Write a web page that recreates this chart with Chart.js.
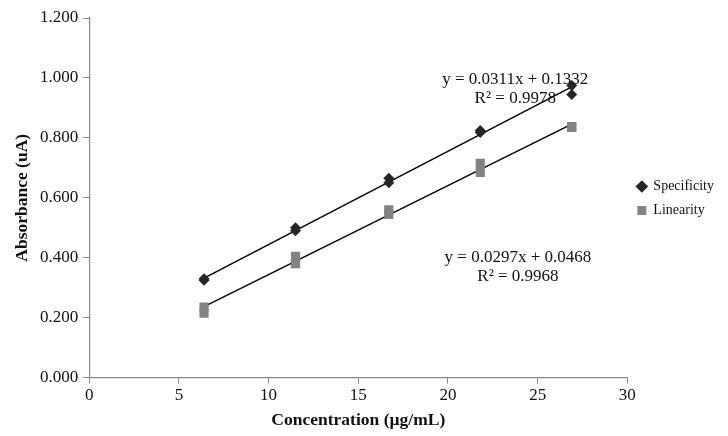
<!DOCTYPE html>
<html lang="en">
<head>
  <meta charset="UTF-8">
  <title>Specificity and Linearity</title>
  <script src="https://cdn.jsdelivr.net/npm/chart.js"></script>
  <style>
    html, body { margin: 0; padding: 0; background: #fff; }
    #wrap { width: 728px; height: 436px; }
  </style>
</head>
<body>
  <div id="wrap"><canvas id="chart"></canvas></div>

  <script>
    // concentration (ug/mL), replicate readings
    const specX = [6.4, 6.4, 11.5, 11.5, 16.7, 16.7, 21.8, 21.8, 26.9, 26.9];
    const specY = [0.325, 0.330, 0.490, 0.500, 0.650, 0.665, 0.818, 0.825, 0.945, 0.975];
    const linX = [6.4, 6.4, 11.5, 11.5, 16.7, 16.7, 21.8, 21.8, 26.9, 26.9];
    const linY = [0.215, 0.235, 0.380, 0.405, 0.545, 0.560, 0.685, 0.715, 0.835, 0.838];

    // trendline end points
    const specTrendX = [6.4, 26.9];
    const specTrendY = [0.332, 0.970];
    const linTrendX = [6.4, 26.9];
    const linTrendY = [0.237, 0.846];

    const specEq = ['y = 0.0311x + 0.1332', 'R² = 0.9978'];
    const linEq = ['y = 0.0297x + 0.0468', 'R² = 0.9968'];

    const pts = (xs, ys) => xs.map((x, i) => ({ x: x, y: ys[i] }));
    const serif = "'Liberation Serif', 'Times New Roman', serif";

    // writes the trendline equations
    const eqLabels = {
      id: 'eqLabels',
      afterDatasetsDraw(chart) {
        const ctx = chart.ctx;
        const xs = chart.scales.x, ys = chart.scales.y;
        ctx.save();
        ctx.font = '17px ' + serif;
        ctx.fillStyle = '#111';
        ctx.textAlign = 'center';
        ctx.textBaseline = 'middle';
        const put = (lines, x, y) => {
          const px = xs.getPixelForValue(x), py = ys.getPixelForValue(y);
          lines.forEach((t, i) => ctx.fillText(t, px, py + i * 19));
        };
        put(specEq, 23.75, 0.994);
        put(linEq, 23.9, 0.400);
        ctx.restore();
      }
    };

    // legend sits a bit above the middle in the original
    const legendNudge = {
      id: 'legendNudge',
      afterLayout(chart) {
        chart.legend.top -= 28;
        chart.legend.bottom -= 28;
      }
    };

    new Chart(document.getElementById('chart'), {
      type: 'scatter',
      data: {
        datasets: [
          {
            label: 'Specificity',
            data: pts(specX, specY),
            pointStyle: 'rectRot',
            pointRadius: 5.5,
            backgroundColor: '#262626',
            borderColor: '#262626',
            borderWidth: 0
          },
          {
            label: 'Linearity',
            data: pts(linX, linY),
            pointStyle: 'rect',
            pointRadius: 6.5,
            backgroundColor: '#838383',
            borderColor: '#838383',
            borderWidth: 0
          },
          {
            label: 'trend1',
            data: pts(specTrendX, specTrendY),
            showLine: true,
            pointRadius: 0,
            borderColor: '#000',
            borderWidth: 1.5
          },
          {
            label: 'trend2',
            data: pts(linTrendX, linTrendY),
            showLine: true,
            pointRadius: 0,
            borderColor: '#000',
            borderWidth: 1.5
          }
        ]
      },
      options: {
        responsive: true,
        maintainAspectRatio: false,
        animation: false,
        layout: { padding: { top: 18, right: 4, left: 8, bottom: 1 } },
        plugins: {
          tooltip: { enabled: false },
          legend: {
            position: 'right',
            labels: {
              filter: item => item.datasetIndex < 2,
              usePointStyle: true,
              boxWidth: 9,
              boxHeight: 9,
              padding: 10,
              color: '#111',
              font: { family: serif, size: 14 }
            }
          }
        },
        scales: {
          x: {
            min: 0,
            max: 30,
            ticks: { stepSize: 5, color: '#111', font: { family: serif, size: 17 }, padding: 2 },
            grid: { drawOnChartArea: false, tickLength: 6, color: '#888' },
            border: { color: '#888', width: 1.2 },
            title: {
              display: true,
              text: 'Concentration (µg/mL)',
              color: '#111',
              font: { family: serif, size: 17.5, weight: 'bold' },
              padding: { top: 2 }
            }
          },
          y: {
            min: 0,
            max: 1.2,
            ticks: {
              stepSize: 0.2,
              color: '#111',
              font: { family: serif, size: 17 },
              padding: 5,
              callback: v => v.toFixed(3)
            },
            grid: { drawOnChartArea: false, tickLength: 6, color: '#888' },
            border: { color: '#888', width: 1.2 },
            title: {
              display: true,
              text: 'Absorbance (uA)',
              color: '#111',
              font: { family: serif, size: 17.5, weight: 'bold' },
              padding: { bottom: 2 }
            }
          }
        }
      },
      plugins: [eqLabels, legendNudge]
    });
  </script>
</body>
</html>
